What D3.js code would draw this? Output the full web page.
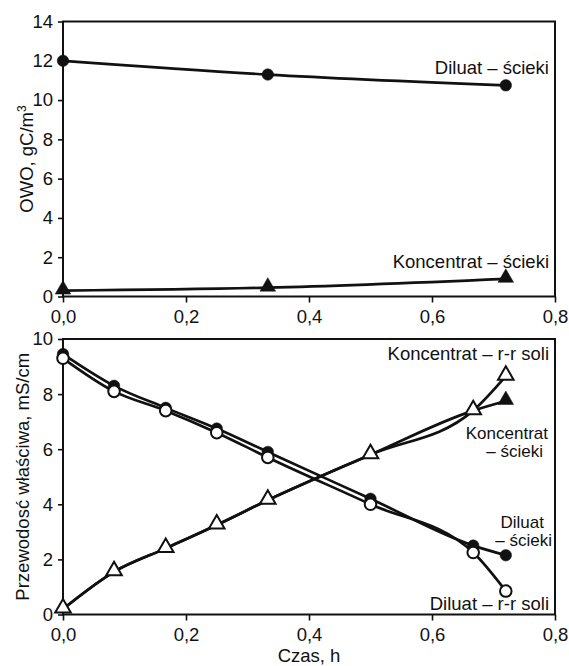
<!DOCTYPE html>
<html>
<head>
<meta charset="utf-8">
<script src="https://cdn.jsdelivr.net/npm/d3@7"></script>
<style>
  body { margin: 0; background: #fff; }
  svg text { font-family: "Liberation Sans", Arial, sans-serif; fill: #111; }
</style>
</head>
<body>
<div id="container"></div>
<script>
var WIDTH = 569,
	HEIGHT = 666,
	LEFT = 63,
	RIGHT = 555,
	FONT = 18.5;

// top panel: OWO
var czasTop = [0, 0.333, 0.72];
var owoDiluat = [12.0, 11.3, 10.75];
var owoKoncentrat = [0.3, 0.45, 0.9];
var owoTicks = [0, 2, 4, 6, 8, 10, 12, 14];

// bottom panel: przewodnosc
var czasBottom = [0, 0.083, 0.167, 0.25, 0.333, 0.5, 0.667, 0.72];
var diluatScieki = [9.45, 8.3, 7.5, 6.75, 5.9, 4.2, 2.5, 2.15];
var diluatSoli = [9.3, 8.1, 7.4, 6.6, 5.7, 4.0, 2.25, 0.85];
var koncentratSoli = [0.2, 1.55, 2.4, 3.25, 4.15, 5.8, 7.4, 8.65];
var koncentratScieki = [0.2, 1.55, 2.4, 3.25, 4.15, 5.8, 7.4, 7.75];
var przewTicks = [0, 2, 4, 6, 8, 10];

var czasTicks = [0, 0.2, 0.4, 0.6, 0.8];

var xScale = d3.scaleLinear().domain([0, 0.8]).range([LEFT, RIGHT]);
var yTop = d3.scaleLinear().domain([0, 14]).range([296.5, 21.5]);
var yBottom = d3.scaleLinear().domain([0, 10]).range([614.5, 339]);

var comma = function(d){ return d3.format('.1f')(d).replace('.', ','); };

var svg = d3.select('#container')
	.append('svg')
	.attr('width', WIDTH)
	.attr('height', HEIGHT);

function drawFrame(yScale, yTicks) {
	var y0 = yScale.range()[0], y1 = yScale.range()[1];
	var xAxis = d3.axisBottom(xScale).tickValues(czasTicks).tickFormat(comma).tickSizeInner(6).tickSizeOuter(0).tickPadding(7);
	var gx = svg.append('g').attr('transform', 'translate(0,' + y0 + ')').call(xAxis);
	var yAxis = d3.axisLeft(yScale).tickValues(yTicks).tickFormat(d3.format('d')).tickSizeInner(5).tickSizeOuter(0).tickPadding(5);
	var gy = svg.append('g').attr('transform', 'translate(' + LEFT + ',0)').call(yAxis);
	[gx, gy].forEach(function(g){
		g.select('.domain').remove();
		g.selectAll('line').attr('stroke', '#111').attr('stroke-width', 1.6);
		g.selectAll('text').attr('font-size', FONT).attr('fill', '#111')
			.style('font-family', '"Liberation Sans", Arial, sans-serif');
	});
	svg.append('rect')
		.attr('x', LEFT).attr('y', y1)
		.attr('width', RIGHT - LEFT).attr('height', y0 - y1)
		.attr('fill', 'none').attr('stroke', '#111').attr('stroke-width', 2);
}

function drawLine(xs, ys, yScale) {
	var pts = xs.map(function(x, i){ return [x, ys[i]]; });
	svg.append('path')
		.attr('d', d3.line()
			.x(function(d){ return xScale(d[0]); })
			.y(function(d){ return yScale(d[1]); })
			.curve(d3.curveMonotoneX)(pts))
		.attr('fill', 'none')
		.attr('stroke', '#111')
		.attr('stroke-width', 2.7);
}

function drawMarks(xs, ys, yScale, shape, filled) {
	var pts = xs.map(function(x, i){ return [x, ys[i]]; });
	var sym = d3.symbol().type(shape === 'circle' ? d3.symbolCircle : d3.symbolTriangle)
		.size(105);
	svg.append('g').selectAll('path').data(pts).enter()
		.append('path')
		.attr('d', sym)
		.attr('transform', function(d){
			var dy = shape === 'circle' ? 0 : -1;
			return 'translate(' + xScale(d[0]) + ',' + (yScale(d[1]) + dy) + ')';
		})
		.attr('fill', filled ? '#111' : '#fff')
		.attr('stroke', '#111')
		.attr('stroke-width', filled ? 0.5 : 2);
}

function addLabel(s, x, y, size) {
	svg.append('text')
		.attr('x', x).attr('y', y)
		.attr('font-size', size || FONT)
		.attr('text-anchor', 'end')
		.text(s);
}

// top panel
drawFrame(yTop, owoTicks);
drawLine(czasTop, owoDiluat, yTop);
drawLine(czasTop, owoKoncentrat, yTop);
drawMarks(czasTop, owoDiluat, yTop, 'circle', true);
drawMarks(czasTop, owoKoncentrat, yTop, 'triangle', true);
addLabel('Diluat \u2013 \u015bcieki', 549, 74);
addLabel('Koncentrat \u2013 \u015bcieki', 549, 268);

var t1 = svg.append('text')
	.attr('transform', 'translate(33,' + ((21.5 + 296.5) / 2) + ') rotate(-90)')
	.attr('text-anchor', 'middle')
	.attr('font-size', FONT);
t1.append('tspan').text('OWO, gC/m');
t1.append('tspan').attr('font-size', 12).attr('dy', -7).text('3');

// bottom panel
drawFrame(yBottom, przewTicks);
drawLine(czasBottom, koncentratScieki, yBottom);
drawLine(czasBottom, koncentratSoli, yBottom);
drawLine(czasBottom, diluatScieki, yBottom);
drawLine(czasBottom, diluatSoli, yBottom);
drawMarks(czasBottom, diluatScieki, yBottom, 'circle', true);
drawMarks(czasBottom, diluatSoli, yBottom, 'circle', false);
drawMarks(czasBottom, koncentratScieki, yBottom, 'triangle', true);
drawMarks(czasBottom, koncentratSoli, yBottom, 'triangle', false);

addLabel('Koncentrat \u2013 r-r soli', 549, 360);
addLabel('Koncentrat', 548, 439, 17);
addLabel('\u2013 \u015bcieki', 543, 457, 17);
addLabel('Diluat', 544, 528, 17);
addLabel('\u2013 \u015bcieki', 552, 546, 17);
addLabel('Diluat \u2013 r-r soli', 549, 610);

svg.append('text')
	.attr('transform', 'translate(29,' + ((339 + 614.5) / 2) + ') rotate(-90)')
	.attr('text-anchor', 'middle')
	.attr('font-size', FONT)
	.text('Przewodosć właściwa, mS/cm');

svg.append('text')
	.attr('x', xScale(0.4)).attr('y', 662)
	.attr('text-anchor', 'middle')
	.attr('font-size', FONT)
	.text('Czas, h');
</script>
</body>
</html>
